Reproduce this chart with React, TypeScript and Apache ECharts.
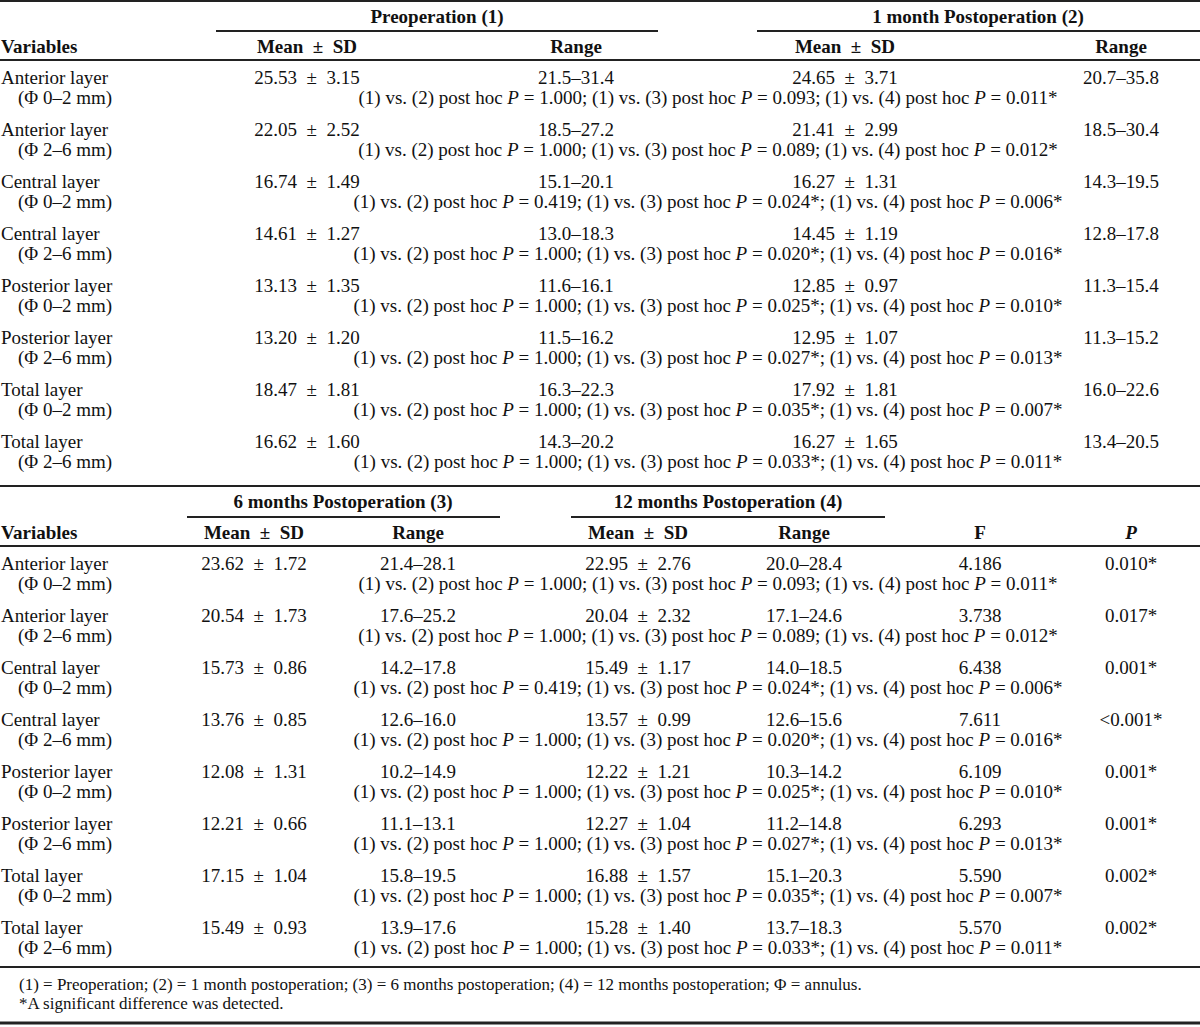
import React, { useEffect, useRef } from "react";
import * as echarts from "echarts";

const variables = ["Anterior layer", "Anterior layer", "Central layer", "Central layer", "Posterior layer", "Posterior layer", "Total layer", "Total layer"];
const annulus = ["(Φ 0–2 mm)", "(Φ 2–6 mm)", "(Φ 0–2 mm)", "(Φ 2–6 mm)", "(Φ 0–2 mm)", "(Φ 2–6 mm)", "(Φ 0–2 mm)", "(Φ 2–6 mm)"];

const preMean = ["25.53", "22.05", "16.74", "14.61", "13.13", "13.20", "18.47", "16.62"];
const preSD = ["3.15", "2.52", "1.49", "1.27", "1.35", "1.20", "1.81", "1.60"];
const preRange = ["21.5–31.4", "18.5–27.2", "15.1–20.1", "13.0–18.3", "11.6–16.1", "11.5–16.2", "16.3–22.3", "14.3–20.2"];

const m1Mean = ["24.65", "21.41", "16.27", "14.45", "12.85", "12.95", "17.92", "16.27"];
const m1SD = ["3.71", "2.99", "1.31", "1.19", "0.97", "1.07", "1.81", "1.65"];
const m1Range = ["20.7–35.8", "18.5–30.4", "14.3–19.5", "12.8–17.8", "11.3–15.4", "11.3–15.2", "16.0–22.6", "13.4–20.5"];

const m6Mean = ["23.62", "20.54", "15.73", "13.76", "12.08", "12.21", "17.15", "15.49"];
const m6SD = ["1.72", "1.73", "0.86", "0.85", "1.31", "0.66", "1.04", "0.93"];
const m6Range = ["21.4–28.1", "17.6–25.2", "14.2–17.8", "12.6–16.0", "10.2–14.9", "11.1–13.1", "15.8–19.5", "13.9–17.6"];

const m12Mean = ["22.95", "20.04", "15.49", "13.57", "12.22", "12.27", "16.88", "15.28"];
const m12SD = ["2.76", "2.32", "1.17", "0.99", "1.21", "1.04", "1.57", "1.40"];
const m12Range = ["20.0–28.4", "17.1–24.6", "14.0–18.5", "12.6–15.6", "10.3–14.2", "11.2–14.8", "15.1–20.3", "13.7–18.3"];

const fValues = ["4.186", "3.738", "6.438", "7.611", "6.109", "6.293", "5.590", "5.570"];
const pValues = ["0.010*", "0.017*", "0.001*", "<0.001*", "0.001*", "0.001*", "0.002*", "0.002*"];

const postHoc12 = ["1.000", "1.000", "0.419", "1.000", "1.000", "1.000", "1.000", "1.000"];
const postHoc13 = ["0.093", "0.089", "0.024*", "0.020*", "0.025*", "0.027*", "0.035*", "0.033*"];
const postHoc14 = ["0.011*", "0.012*", "0.006*", "0.016*", "0.010*", "0.013*", "0.007*", "0.011*"];

const table1Groups = ["Preoperation (1)", "1 month Postoperation (2)"];
const table2Groups = ["6 months Postoperation (3)", "12 months Postoperation (4)"];
const footnotes = [
  "(1) = Preoperation; (2) = 1 month postoperation; (3) = 6 months postoperation; (4) = 12 months postoperation; Φ = annulus.",
  "*A significant difference was detected.",
];

const FONT = "'Liberation Serif', 'Times New Roman', serif";
const FS = 19;
const FOOT_FS = 17;
const COLOR = "#111";
const LINE = "#222";
const PM = "\u2002±\u2002";

function txt(x: number, y: number, text: string, align: string, bold = false, italic = false, size = FS): any {
  return {
    type: "text",
    x,
    y,
    style: {
      text,
      fontFamily: FONT,
      fontSize: size,
      fontWeight: bold ? "bold" : "normal",
      fontStyle: italic ? "italic" : "normal",
      fill: COLOR,
      align,
      verticalAlign: "middle",
    },
  };
}

function postHocText(x: number, y: number, i: number): any {
  const text =
    `{n|(1) vs. (2) post hoc }{i|P}{n| = ${postHoc12[i]}; (1) vs. (3) post hoc }{i|P}{n| = ${postHoc13[i]}; (1) vs. (4) post hoc }{i|P}{n| = ${postHoc14[i]}}`;
  return {
    type: "text",
    x,
    y,
    style: {
      text,
      fontFamily: FONT,
      fontSize: FS,
      fill: COLOR,
      align: "center",
      verticalAlign: "middle",
      rich: {
        n: { fontFamily: FONT, fontSize: FS, fill: COLOR },
        i: { fontFamily: FONT, fontSize: FS, fill: COLOR, fontStyle: "italic" },
      },
    },
  };
}

function hline(x1: number, x2: number, y: number, w: number): any {
  return {
    type: "line",
    shape: { x1, y1: y, x2, y2: y },
    style: { stroke: LINE, lineWidth: w },
  };
}

export default function App() {
  const ref = useRef<HTMLDivElement>(null);
  useEffect(() => {
    document.body.style.margin = "0";
    const chart = echarts.init(ref.current!, undefined, { renderer: "svg" });
    const els: any[] = [];
    const rowStep = 52;

    // ---------- Table 1 ----------
    els.push(hline(0, 1200, 1, 2));
    els.push(txt(437, 16, table1Groups[0], "center", true));
    els.push(txt(978, 16, table1Groups[1], "center", true));
    els.push(hline(216, 658, 31, 2));
    els.push(hline(757, 1200, 31, 2));
    els.push(txt(1, 46, "Variables", "left", true));
    const c1 = [307, 576, 845, 1121];
    els.push(txt(c1[0], 46, `Mean${PM}SD`, "center", true));
    els.push(txt(c1[1], 46, "Range", "center", true));
    els.push(txt(c1[2], 46, `Mean${PM}SD`, "center", true));
    els.push(txt(c1[3], 46, "Range", "center", true));
    els.push(hline(0, 1200, 60, 2));
    for (let i = 0; i < variables.length; i++) {
      const y = 77 + i * rowStep;
      els.push(txt(1, y, variables[i], "left"));
      els.push(txt(18, y + 20, annulus[i], "left"));
      els.push(txt(c1[0], y, `${preMean[i]}${PM}${preSD[i]}`, "center"));
      els.push(txt(c1[1], y, preRange[i], "center"));
      els.push(txt(c1[2], y, `${m1Mean[i]}${PM}${m1SD[i]}`, "center"));
      els.push(txt(c1[3], y, m1Range[i], "center"));
      els.push(postHocText(708, y + 20, i));
    }

    // ---------- Table 2 ----------
    els.push(hline(0, 1200, 486, 2));
    els.push(txt(343, 501, table2Groups[0], "center", true));
    els.push(txt(728, 501, table2Groups[1], "center", true));
    els.push(hline(187, 500, 517, 2));
    els.push(hline(571, 885, 517, 2));
    els.push(txt(1, 532, "Variables", "left", true));
    const c2 = [254, 418, 638, 804, 980, 1131];
    els.push(txt(c2[0], 532, `Mean${PM}SD`, "center", true));
    els.push(txt(c2[1], 532, "Range", "center", true));
    els.push(txt(c2[2], 532, `Mean${PM}SD`, "center", true));
    els.push(txt(c2[3], 532, "Range", "center", true));
    els.push(txt(c2[4], 532, "F", "center", true));
    els.push(txt(c2[5], 532, "P", "center", true, true));
    els.push(hline(0, 1200, 546, 2));
    for (let i = 0; i < variables.length; i++) {
      const y = 563 + i * rowStep;
      els.push(txt(1, y, variables[i], "left"));
      els.push(txt(18, y + 20, annulus[i], "left"));
      els.push(txt(c2[0], y, `${m6Mean[i]}${PM}${m6SD[i]}`, "center"));
      els.push(txt(c2[1], y, m6Range[i], "center"));
      els.push(txt(c2[2], y, `${m12Mean[i]}${PM}${m12SD[i]}`, "center"));
      els.push(txt(c2[3], y, m12Range[i], "center"));
      els.push(txt(c2[4], y, fValues[i], "center"));
      els.push(txt(c2[5], y, pValues[i], "center"));
      els.push(postHocText(708, y + 20, i));
    }

    // ---------- Footnotes ----------
    els.push(hline(0, 1200, 967, 2));
    els.push(txt(19, 984, footnotes[0], "left", false, false, FOOT_FS));
    els.push(txt(19, 1003, footnotes[1], "left", false, false, FOOT_FS));
    els.push(hline(0, 1200, 1023, 3));

    chart.setOption({
      animation: false,
      backgroundColor: "#ffffff",
      graphic: { elements: els },
    });
    return () => chart.dispose();
  }, []);
  return <div ref={ref} style={{ width: 1200, height: 1027 }} />;
}
